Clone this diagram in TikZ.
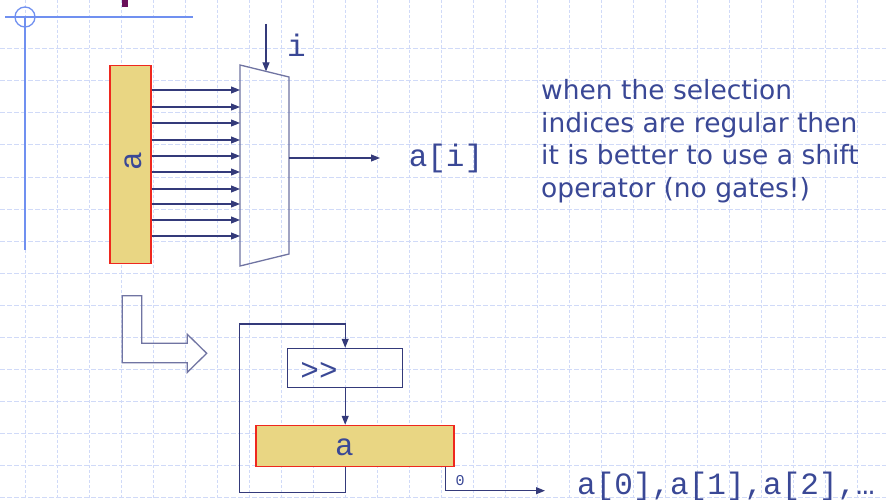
\documentclass[tikz,border=0pt]{standalone}
\usepackage{fontspec}
\usetikzlibrary{arrows.meta}
\setmainfont{DejaVu Sans}
\newfontfamily\monof{Liberation Mono}
\definecolor{gridc}{RGB}{208,218,248}
\definecolor{navy}{RGB}{52,58,122}
\definecolor{muxc}{RGB}{112,116,162}
\definecolor{txtc}{RGB}{58,72,150}
\definecolor{regfill}{RGB}{233,214,131}
\definecolor{regdraw}{RGB}{238,40,30}
\definecolor{framec}{RGB}{112,144,240}
\definecolor{purp}{RGB}{106,16,90}
\tikzset{
  gridv/.style={gridc, line width=1pt, dash pattern=on 3pt off 2pt},
  gridh/.style={gridc, line width=1pt, dash pattern=on 5pt off 2pt},
  conn/.style={navy, line width=1.1pt},
  arr/.style={conn, -{Triangle[length=9pt,width=7pt]}},
  regbox/.style={draw=regdraw, fill=regfill, line width=1.1pt, inner sep=0pt},
  plainbox/.style={draw=navy, line width=1.1pt, inner sep=0pt},
  mono/.style={font=\monof\fontsize{31}{31}\selectfont, text=txtc, inner sep=0pt},
  prose/.style={font=\fontsize{26.5}{26.5}\selectfont, text=txtc, inner sep=0pt, anchor=base west},
}
\begin{document}
\begin{tikzpicture}[x=1pt,y=-1pt]
\useasboundingbox (0,0) rectangle (886,500);
\fill[white] (0,0) rectangle (886,500);
% grid
\foreach \k in {0,...,27} \draw[gridv] (25+32*\k,0) -- (25+32*\k,500);
\foreach \k in {1,...,15} \draw[gridh] (0,17+32*\k) -- (886,17+32*\k);
% slide frame decoration
\draw[framec, line width=1.6pt] (25,17) -- (25,250);
\draw[framec, line width=1.6pt] (5,17) -- (193,17);
\draw[framec, line width=1.3pt] (25,17) circle[radius=10];
\fill[purp] (122,0) rectangle (128,7);

% left register
\node[regbox, minimum width=41pt, minimum height=197.6pt] (lreg) at (130.5,164.5) {};
\node[mono, rotate=90] (lregl) at (133,161) {a};

% multiplexer
\coordinate (m1) at (240,65);
\coordinate (m2) at (289,77);
\coordinate (m3) at (289,254);
\coordinate (m4) at (240,266);
\draw[muxc, line width=1.3pt] (m1) -- (m2) -- (m3) -- (m4) -- cycle;

\foreach \y in {90,107,123,140,156,172,189,204,220,236}
  \draw[arr] (lreg.east |- 0,\y) -- (240,\y);

% select input
\node[mono, anchor=west] (isel) at (287,45) {i};
\coordinate (itop) at (266,24);
\coordinate (ibot) at (266,71.4);
\draw[arr] (itop) -- (ibot);

% output
\coordinate (mout) at (289,158);
\node[mono] (ai) at (446,158.5) {a[i]};
\coordinate (aiend) at (380,158);
\draw[arr] (mout) -- (aiend);

% explanation
\node[prose] (t1) at (541,99.5) {when the selection};
\node[prose] (t2) at (541,132) {indices are regular then};
\node[prose] (t3) at (541,164.5) {it is better to use a shift};
\node[prose] (t4) at (541,197) {operator (no gates!)};

% block arrow
\draw[muxc, line width=1.3pt] (122.3,295.7) -- (141.7,295.7) -- (141.7,343.3) -- (187.3,343.3)
  -- (187.3,334.3) -- (206.7,353.3) -- (187.3,372.3) -- (187.3,362.7) -- (122.3,362.7) -- cycle;

% shift register structure
\node[plainbox, minimum width=115pt, minimum height=39pt] (shift) at (345.2,367.8) {};
\node[mono] (shl) at (319,371) {>>};
\node[regbox, minimum width=198pt, minimum height=41.4pt] (areg) at (355,446) {};
\node[mono] (aregl) at (344.5,447) {a};

\draw[arr] (shift.south) -- (shift.south |- areg.north);

\coordinate (fbl) at (239.3,492.3);
\coordinate (fbt) at (239.3,324);
\draw[arr] (shift.south |- areg.south) -- (shift.south |- fbl) -- (fbl) -- (fbt) -- (shift.north |- fbt) -- (shift.north);

\coordinate (ostart) at (445.7,466.7);
\coordinate (ocorner) at (445.7,490.7);
\coordinate (oend) at (545,490.7);
\draw[arr] (ostart) -- (ocorner) -- (oend);
\node[font=\monof\fontsize{15}{15}\selectfont, text=txtc, inner sep=0pt] (zero) at (460,481) {0};
\node[mono, anchor=west] (seq) at (577,486) {a[0],a[1],a[2],…};
\end{tikzpicture}
\end{document}
